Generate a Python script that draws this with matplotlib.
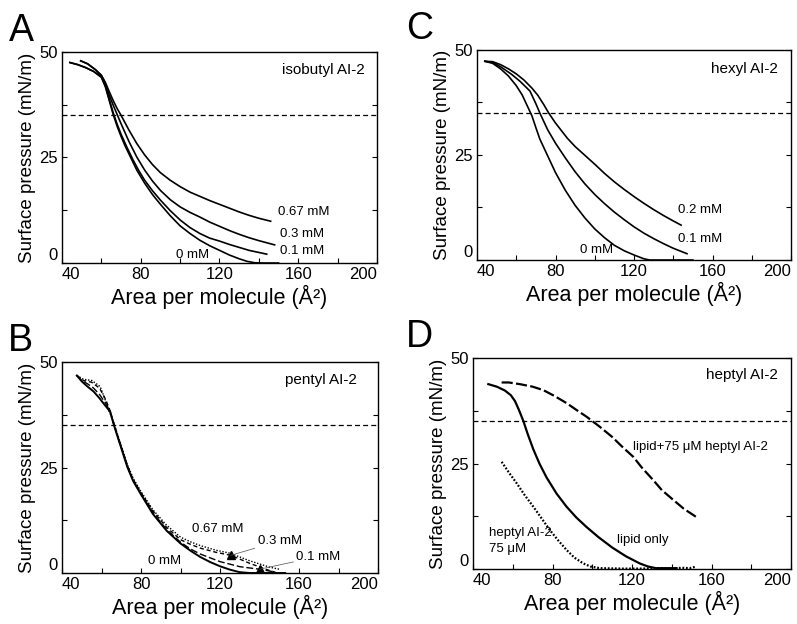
import numpy as np
import matplotlib
matplotlib.use("Agg")
import matplotlib.pyplot as plt
from matplotlib.ticker import MultipleLocator

plt.rcParams["font.family"] = ["Liberation Sans", "DejaVu Sans"]

# ---- panel A: isobutyl AI-2 ----
a0_x = [44, 48, 52, 56, 60, 62, 64, 66, 68, 70, 72, 75, 78, 82, 86, 90, 95, 100, 105, 110, 115, 120, 125, 130, 134, 138, 142, 150]
a0_y = [47.5, 47.0, 46.3, 45.4, 44.0, 41.8, 38.5, 35.2, 32.4, 30.0, 27.8, 24.9, 22.0, 18.9, 16.2, 13.9, 11.2, 8.8, 7.0, 5.4, 4.1, 3.0, 1.9, 1.0, 0.4, 0.05, 0, 0]
a01_x = [44, 48, 52, 56, 60, 62, 64, 66, 68, 70, 73, 76, 79, 82, 86, 90, 95, 100, 105, 110, 115, 120, 125, 130, 135, 140, 144]
a01_y = [47.5, 47.0, 46.3, 45.4, 44.1, 42.0, 38.8, 35.6, 32.9, 30.5, 27.4, 24.5, 21.9, 19.6, 17.1, 14.9, 12.4, 10.2, 8.4, 7.0, 5.9, 5.2, 4.4, 3.7, 3.0, 2.5, 2.1]
a03_x = [49.5, 53, 57, 60, 62, 64, 66, 68, 70, 74, 78, 82, 86, 90, 95, 100, 105, 110, 115, 120, 125, 130, 135, 140, 144, 148]
a03_y = [47.9, 47.2, 45.8, 44.4, 42.5, 39.8, 37.4, 35.2, 33.0, 28.8, 25.1, 22.0, 19.4, 17.2, 15.0, 13.3, 12.0, 10.9, 9.7, 8.7, 7.7, 6.8, 6.0, 5.3, 4.8, 4.3]
a067_x = [49.5, 53, 57, 60, 62, 64, 66, 68, 70, 74, 78, 82, 86, 90, 95, 100, 105, 110, 115, 120, 125, 130, 135, 140, 146]
a067_y = [47.9, 47.2, 45.8, 44.5, 42.8, 40.6, 38.5, 36.6, 35.0, 31.5, 28.3, 25.6, 23.3, 21.4, 19.6, 18.1, 16.8, 15.8, 14.8, 13.9, 13.0, 12.1, 11.3, 10.6, 9.9]

# ---- panel B: pentyl AI-2 ----
b0_x = [47.5, 50, 52.6, 56, 59, 61, 64.4, 66, 68, 70, 73, 76, 80, 86, 93, 100, 105, 110, 115, 120, 125, 130, 135, 145, 153]
b0_y = [46.8, 45.4, 44.3, 43.0, 41.4, 40.2, 38.2, 35.5, 32.5, 29.6, 25.2, 21.8, 18.6, 14.0, 10.0, 7.0, 5.3, 3.8, 2.6, 1.6, 0.8, 0.2, 0, 0, 0]
b01_x = [47.5, 50, 53, 56, 59, 62, 64.4, 66, 68, 70, 73, 76, 80, 86, 93, 100, 105, 110, 120, 130, 140, 147]
b01_y = [46.8, 45.6, 44.8, 43.8, 42.3, 40.3, 38.3, 35.6, 32.6, 29.7, 25.4, 22.0, 18.8, 14.3, 10.3, 7.3, 5.7, 4.5, 2.7, 1.5, 0.9, 0.3]
b03_x = [47.5, 50.9, 55, 59, 62, 64, 66, 68, 70, 73, 76, 80, 86, 93, 100, 105, 110, 118, 125.5, 135, 145, 148]
b03_y = [46.8, 45.6, 45.2, 43.8, 41.2, 38.9, 35.8, 32.8, 30.0, 25.6, 22.2, 19.0, 14.7, 10.8, 7.9, 6.8, 5.9, 4.9, 4.2, 2.3, 0.6, 0.2]
b067_x = [47.5, 50.9, 55.1, 59.3, 61.9, 63.6, 66, 68, 70, 73, 76, 80, 86, 93, 100, 105, 110, 118, 125, 135, 145, 150]
b067_y = [46.8, 45.9, 45.6, 44.2, 41.0, 38.6, 35.9, 33.0, 30.2, 25.8, 22.5, 19.3, 15.0, 11.3, 8.5, 7.4, 6.5, 5.4, 4.7, 2.9, 1.4, 0.9]
b_tri_x = [125.5, 140]
b_tri_y = [4.2, 0.9]

# ---- panel C: hexyl AI-2 ----
c0_x = [44, 48, 52, 56, 60, 63, 65.5, 68, 70, 72, 76, 80, 85, 90, 95, 100, 105, 110, 115, 120, 125, 128, 150]
c0_y = [47.3, 46.8, 45.5, 43.8, 41.5, 39.3, 36.8, 34.3, 31.5, 28.8, 24.8, 20.8, 16.6, 13.0, 10.0, 7.4, 5.3, 3.5, 2.2, 1.2, 0.3, 0, 0]
c01_x = [44, 48, 52, 57.6, 62, 67, 70, 72, 76, 80, 85, 90, 95, 100, 105, 110, 115, 120, 125, 130, 135, 140, 147]
c01_y = [47.3, 47.0, 46.0, 44.2, 42.5, 40.2, 37.2, 35.0, 31.0, 27.8, 24.3, 21.0, 18.1, 15.6, 13.4, 11.4, 9.6, 7.9, 6.4, 5.1, 3.9, 2.8, 1.5]
c02_x = [44, 48, 52, 56, 60, 64, 68, 71, 74, 76.5, 80, 82, 86, 90, 95, 100, 105, 110, 115, 120, 125, 130, 135, 140, 144]
c02_y = [47.3, 47.2, 46.5, 45.5, 44.3, 42.8, 40.9, 39.2, 37.0, 35.0, 32.6, 31.4, 29.0, 27.0, 24.9, 22.8, 20.6, 18.6, 16.8, 15.1, 13.5, 12.0, 10.6, 9.3, 8.3]

# ---- panel D: heptyl AI-2 ----
d_lipid_x = [47.7, 52, 56, 59, 61.1, 63, 65.3, 67.5, 70.3, 73.5, 77, 82, 87, 92, 97, 103, 110, 117, 124, 128, 132, 142.4]
d_lipid_y = [43.8, 43.2, 42.3, 41.2, 39.8, 37.8, 35.1, 32.0, 28.4, 24.9, 21.7, 17.9, 14.8, 12.2, 10.0, 7.6, 5.1, 3.0, 1.3, 0.6, 0.2, 0.2]
d_mix_x = [54.4, 58, 63.6, 70, 75.3, 81, 87.1, 92, 97.1, 103.8, 110, 115, 120.6, 125, 130.6, 135, 140.7, 146, 152.1]
d_mix_y = [44.2, 44.2, 43.8, 43.2, 42.4, 41.0, 39.3, 37.7, 36.1, 33.7, 31.3, 29.0, 26.6, 24.0, 21.1, 18.7, 16.4, 14.3, 12.4]
d_ai2_x = [54.4, 58, 62, 66, 70.3, 74.5, 78.7, 83, 87.1, 91, 95.4, 99, 103.8, 115, 125, 135, 140, 145, 149, 152.4]
d_ai2_y = [25.4, 22.9, 20.3, 17.5, 14.8, 12.0, 9.2, 6.7, 4.5, 2.7, 1.35, 0.6, 0.2, 0.1, 0.1, 0.2, 0.1, 0.3, 0.2, 0.6]

fig = plt.figure(figsize=(7.97, 6.24), dpi=100)
axA = fig.add_axes([0.0778, 0.5785, 0.3952, 0.3382])
axC = fig.add_axes([0.5985, 0.5833, 0.3940, 0.3367])
axB = fig.add_axes([0.0778, 0.0817, 0.3965, 0.3382])
axD = fig.add_axes([0.5935, 0.0881, 0.3990, 0.3382])


def style(ax, letter, lx):
    ax.set_xlim(40, 200); ax.set_ylim(0, 50)
    ax.xaxis.set_major_locator(MultipleLocator(40)); ax.xaxis.set_minor_locator(MultipleLocator(20))
    ax.yaxis.set_major_locator(MultipleLocator(25)); ax.yaxis.set_minor_locator(MultipleLocator(12.5))
    ax.tick_params(which="both", direction="in", length=3.5, width=0.8, right=True, labelsize=12, pad=3)
    for s in ax.spines.values():
        s.set_linewidth(1.0)
    ax.set_xticks([40, 80, 120, 160, 200])
    ax.set_xticklabels(["40", "80", "120", "160", "200"])
    xl = ax.get_xticklabels()
    xl[0].set_ha("left"); xl[-1].set_ha("right")
    ax.set_yticks([0, 25, 50])
    ax.set_yticklabels(["0", "25", "50"])
    ax.get_yticklabels()[0].set_va("bottom")
    ax.axhline(35, color="k", lw=0.9, ls=(0, (4, 2.5)))
    ax.set_xlabel("Area per molecule (Å²)", fontsize=15.5, labelpad=2)
    ax.set_ylabel("Surface pressure (mN/m)", fontsize=13.5, labelpad=2)
    ax.text(lx, 1.05, letter, transform=ax.transAxes, fontsize=27, ha="left", va="baseline")


lw = 1.2
axA.plot(a0_x, a0_y, "k-", lw=lw)
axA.plot(a01_x, a01_y, "k-", lw=lw)
axA.plot(a03_x, a03_y, "k-", lw=lw)
axA.plot(a067_x, a067_y, "k-", lw=lw)
style(axA, "A", -0.17)
axA.text(194, 45.8, "isobutyl AI-2", fontsize=11, ha="right", va="center")
axA.text(149.5, 12.0, "0.67 mM", fontsize=9.5, va="center")
axA.text(150.5, 6.8, "0.3 mM", fontsize=9.5, va="center")
axA.text(150.5, 2.9, "0.1 mM", fontsize=9.5, va="center")
axA.text(106.4, 1.8, "0 mM", fontsize=9.5, ha="center", va="center")

axC.plot(c0_x, c0_y, "k-", lw=lw)
axC.plot(c01_x, c01_y, "k-", lw=lw)
axC.plot(c02_x, c02_y, "k-", lw=lw)
style(axC, "C", -0.225)
axC.text(193.3, 45.4, "hexyl AI-2", fontsize=11, ha="right", va="center")
axC.text(142.5, 11.8, "0.2 mM", fontsize=9.5, va="center")
axC.text(142.5, 4.9, "0.1 mM", fontsize=9.5, va="center")
axC.text(101, 2.5, "0 mM", fontsize=9.5, ha="center", va="center")

axB.plot(b0_x, b0_y, "k-", lw=1.4)
axB.plot(b01_x, b01_y, "k", lw=1.0, ls=(0, (5, 2)))
axB.plot(b03_x, b03_y, "k", lw=1.0, ls=(0, (3, 2)))
axB.plot(b067_x, b067_y, "k", lw=1.0, ls=(0, (1, 1.2)))
axB.plot(b_tri_x, b_tri_y, "k^", ms=5.5, ls="none")
style(axB, "B", -0.17)
axB.text(189.1, 45.7, "pentyl AI-2", fontsize=11, ha="right", va="center")
axB.text(118.7, 10.4, "0.67 mM", fontsize=9.5, ha="center", va="center")
axB.annotate("0.3 mM", xy=(b_tri_x[0], b_tri_y[0]), xytext=(139, 7.6), fontsize=9.5, va="center",
             arrowprops=dict(arrowstyle="-", lw=0.5, color="0.3", shrinkA=0, shrinkB=0))
axB.annotate("0.1 mM", xy=(b_tri_x[1], b_tri_y[1]), xytext=(158.6, 3.9), fontsize=9.5, va="center",
             arrowprops=dict(arrowstyle="-", lw=0.5, color="0.3", shrinkA=0, shrinkB=0))
axB.text(92, 2.9, "0 mM", fontsize=9.5, ha="center", va="center")

axD.plot(d_lipid_x, d_lipid_y, "k-", lw=1.6)
axD.plot(d_mix_x, d_mix_y, "k", lw=1.6, ls=(0, (5, 1.5)))
axD.plot(d_ai2_x, d_ai2_y, "k", lw=1.6, ls=(0, (0.8, 0.8)))
style(axD, "D", -0.21)
axD.text(193.4, 46.0, "heptyl AI-2", fontsize=11, ha="right", va="center")
axD.text(120.6, 29.0, "lipid+75 μM heptyl AI-2", fontsize=9.5, va="center")
axD.text(112.2, 6.9, "lipid only", fontsize=9.5, va="center")
axD.text(48.2, 8.6, "heptyl AI-2", fontsize=9.5, va="center")
axD.text(48.2, 4.7, "75 μM", fontsize=9.5, va="center")

fig.savefig("out.png", dpi=100)
